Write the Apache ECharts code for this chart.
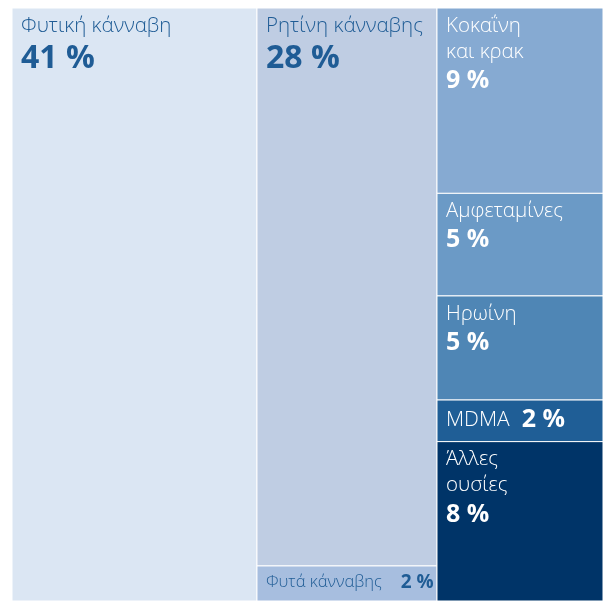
<!DOCTYPE html>
<html><head><meta charset="utf-8">
<script src="https://cdn.jsdelivr.net/npm/echarts@6/dist/echarts.min.js"></script>
<style>html,body{margin:0;padding:0;background:#fff}#c{width:603px;height:601px}</style>
</head><body><div id="c"></div>
<script>
// Data
const names = ['Φυτική κάνναβη', 'Ρητίνη κάνναβης', 'Φυτά κάνναβης', 'Κοκαΐνη\nκαι κρακ', 'Αμφεταμίνες', 'Ηρωίνη', 'MDMA', 'Άλλες\nουσίες'];
const values = [41.45, 28.66, 1.80, 8.78, 4.86, 4.93, 1.97, 7.55];   // area shares
const percentLabels = ['41 %', '28 %', '2 %', '9 %', '5 %', '5 %', '2 %', '8 %'];
const columns = [0, 1, 1, 2, 2, 2, 2, 2];

// Styles
const fills = ['#dbe6f3', '#bfcde3', '#a7bedf', '#86aad2', '#6b9ac6', '#4f86b5', '#1f5e96', '#003468'];
const textFills = ['#1f5c95', '#1f5c95', '#1f5c95', '#ffffff', '#ffffff', '#ffffff', '#ffffff', '#ffffff'];
const FONT = '"Open Sans", "Noto Sans", sans-serif';

// slice-and-dice layout in data units (0..100 on both axes)
const colTotals = [];
columns.forEach((c, i) => { colTotals[c] = (colTotals[c] || 0) + values[i]; });
const grand = colTotals.reduce((a, b) => a + b, 0);
const colStart = []; let acc = 0;
colTotals.forEach((t, c) => { colStart[c] = acc / grand * 100; acc += t; });
const colAcc = colTotals.map(() => 0);
const cells = values.map((v, i) => {
  const c = columns[i];
  const x0 = colStart[c], x1 = x0 + colTotals[c] / grand * 100;
  const y0 = colAcc[c] / colTotals[c] * 100;
  colAcc[c] += v;
  const y1 = colAcc[c] / colTotals[c] * 100;
  return [x0, x1, y0, y1, i];
});

function renderItem(params, api) {
  const i = api.value(4);
  const p0 = api.coord([api.value(0), api.value(2)]);
  const p1 = api.coord([api.value(1), api.value(3)]);
  const x = p0[0], y = p0[1], w = p1[0] - p0[0], h = p1[1] - p0[1];
  const col = textFills[i];
  let text, rich, ty, va;
  if (h < 50) {
    const small = w > 170;
    text = '{n|' + names[i] + '}{g|}{p|' + percentLabels[i] + '}';
    rich = {
      n: { fontFamily: FONT, fontWeight: 300, fontSize: small ? 16.5 : 21, fill: col },
      g: { width: small ? 19 : 12 },
      p: { fontFamily: FONT, fontWeight: 'bold', fontSize: small ? 19 : 25, fill: col }
    };
    ty = y + h / 2 - 1; va = 'middle';
  } else {
    const big = w > 175;
    text = names[i].split('\n').map(s => '{n|' + s + '}').join('\n') + '\n{p|' + percentLabels[i] + '}';
    rich = {
      n: { fontFamily: FONT, fontWeight: 300, fontSize: 20.5, lineHeight: 26, fill: col },
      p: { fontFamily: FONT, fontWeight: 'bold', fontSize: big ? 32 : 25, lineHeight: big ? 40 : 32, fill: col }
    };
    ty = y + 5; va = 'top';
  }
  return {
    type: 'group',
    children: [
      { type: 'rect', shape: { x: x, y: y, width: w, height: h },
        style: { fill: fills[i], stroke: '#ffffff', lineWidth: 1 } },
      { type: 'text', x: x + 9, y: ty,
        style: { text: text, rich: rich, verticalAlign: va, align: 'left' } }
    ]
  };
}

const chart = echarts.init(document.getElementById('c'), null, { renderer: 'canvas' });
chart.setOption({
  animation: false,
  grid: { left: 12, right: 0, top: 8, bottom: 0 },
  xAxis: { type: 'value', min: 0, max: 100, show: false },
  yAxis: { type: 'value', min: 0, max: 100, inverse: true, show: false },
  series: [{
    type: 'custom',
    renderItem: renderItem,
    encode: { x: [0, 1], y: [2, 3] },
    data: cells
  }]
});
</script></body></html>
